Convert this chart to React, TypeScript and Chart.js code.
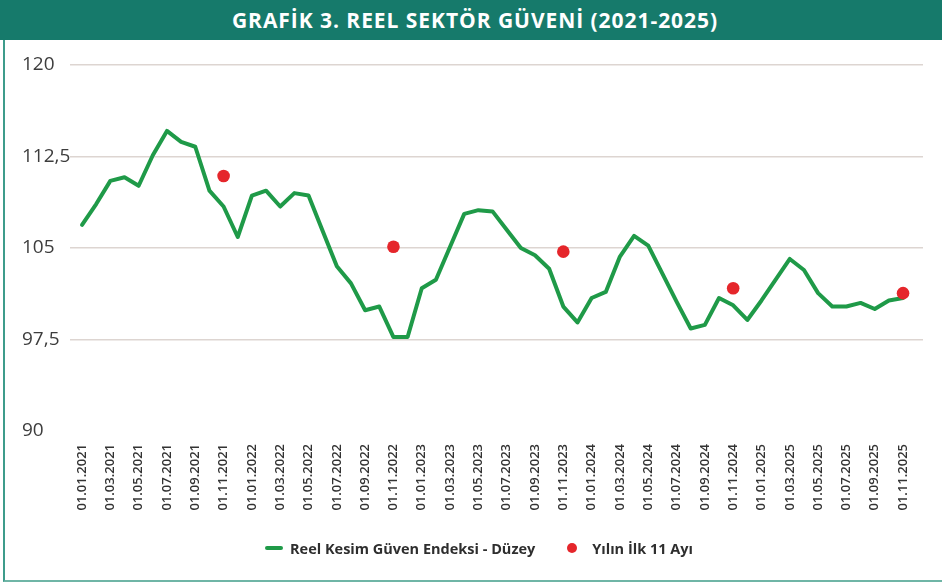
import React, { useEffect, useRef } from "react";
import { Chart, registerables } from "chart.js";

Chart.register(...registerables);

const TITLE = "GRAFİK 3. REEL SEKTÖR GÜVENİ (2021-2025)";
const SERIES_LABEL = "Reel Kesim Güven Endeksi - Düzey";
const DOT_LABEL = "Yılın İlk 11 Ayı";

// Monthly categories: 01.01.2021 ... 01.11.2025
const MONTHS: string[] = [];
for (let y = 2021; y <= 2025; y++) {
  for (let m = 1; m <= 12; m++) {
    if (y === 2025 && m > 11) break;
    MONTHS.push(`01.${String(m).padStart(2, "0")}.${y}`);
  }
}

// Reel Kesim Güven Endeksi - Düzey (monthly)
const INDEX_VALUES = [
  106.9, 108.6, 110.5, 110.8, 110.1, 112.6, 114.6, 113.7, 113.3, 109.7, 108.4, 105.9,
  109.3, 109.7, 108.4, 109.5, 109.3, 106.4, 103.5, 102.1, 99.9, 100.2, 97.7, 97.7,
  101.7, 102.4, 105.1, 107.8, 108.1, 108.0, 106.5, 105.0, 104.4, 103.3, 100.2, 98.9,
  100.9, 101.4, 104.3, 106.0, 105.2, 102.9, 100.6, 98.4, 98.7, 100.9, 100.3, 99.1,
  100.7, 102.4, 104.1, 103.2, 101.3, 100.2, 100.2, 100.5, 100.0, 100.7, 100.9,
];

// Yılın İlk 11 Ayı (average of first 11 months)
const DOT_MONTHS = ["01.11.2021", "01.11.2022", "01.11.2023", "01.11.2024", "01.11.2025"];
const DOT_VALUES = [110.9, 105.1, 104.7, 101.7, 101.3];

const Y_TICKS = [90, 97.5, 105, 112.5, 120];

const GREEN = "#1f9a48";
const RED = "#e5262b";
const BANNER = "#167a6b";
const FONT = "'Open Sans', 'Noto Sans', sans-serif";

export default function App() {
  const ref = useRef<HTMLCanvasElement | null>(null);

  useEffect(() => {
    document.body.style.margin = "0";
    const canvas = ref.current;
    if (!canvas) return;
    const chart = new Chart(canvas, {
      type: "line",
      data: {
        datasets: [
          {
            label: DOT_LABEL,
            data: DOT_MONTHS.map((m, i) => ({ x: MONTHS.indexOf(m), y: DOT_VALUES[i] })),
            showLine: false,
            pointRadius: 6.3,
            pointHoverRadius: 6.3,
            pointBackgroundColor: RED,
            pointBorderWidth: 0,
            backgroundColor: RED,
            borderColor: RED,
          },
          {
            label: SERIES_LABEL,
            data: INDEX_VALUES.map((v, i) => ({ x: i, y: v })),
            borderColor: GREEN,
            backgroundColor: GREEN,
            borderWidth: 4,
            pointRadius: 0,
            pointHoverRadius: 0,
            tension: 0,
            borderJoinStyle: "round",
            borderCapStyle: "round",
          },
        ],
      },
      options: {
        responsive: false,
        animation: false,
        layout: { padding: { left: 22, right: 19, top: 25, bottom: 0 } },
        plugins: {
          legend: { display: false },
          tooltip: { enabled: false },
          title: { display: false },
        },
        scales: {
          x: {
            type: "linear",
            min: -0.85,
            max: 59.41,
            afterBuildTicks: (scale: any) => {
              scale.ticks = MONTHS.map((_, i) => ({ value: i })).filter((t) => t.value % 2 === 0);
            },
            afterFit: (scale: any) => {
              scale.height = 109;
            },
            grid: { display: false, drawTicks: false, tickLength: 0 },
            border: { display: false },
            ticks: {
              autoSkip: false,
              maxRotation: 90,
              minRotation: 90,
              padding: 13,
              color: "#333",
              font: { family: FONT, size: 13, weight: 600 },
              callback: (v: any) => MONTHS[Number(v)] ?? "",
            },
          },
          y: {
            min: 90,
            max: 120,
            afterBuildTicks: (scale: any) => {
              scale.ticks = Y_TICKS.map((v) => ({ value: v }));
            },
            afterFit: (scale: any) => {
              scale.width = 48;
            },
            grid: {
              drawTicks: false,
              tickLength: 0,
              lineWidth: 1.5,
              color: (ctx: any) => (ctx.tick && ctx.tick.value === 90 ? "rgba(0,0,0,0)" : "#ddd5d1"),
            },
            border: { display: false },
            ticks: {
              crossAlign: "far",
              padding: 12,
              color: "#3d3d3d",
              font: { family: FONT, size: 19 },
              callback: (v: any) => String(v).replace(".", ","),
            },
          },
        },
      },
    });
    return () => chart.destroy();
  }, []);

  return (
    <div
      style={{
        position: "relative",
        width: 942,
        height: 582,
        background: "#fff",
        overflow: "hidden",
        fontFamily: FONT,
      }}
    >
      <div
        style={{
          position: "absolute",
          left: 0,
          top: 0,
          width: 942,
          height: 40,
          background: BANNER,
          color: "#fff",
          display: "flex",
          alignItems: "center",
          justifyContent: "center",
          paddingLeft: 8,
          boxSizing: "border-box",
          font: `700 21px ${FONT}`,
          letterSpacing: 0.95,
        }}
      >
        {TITLE}
      </div>
      <div
        style={{
          position: "absolute",
          left: 3,
          top: 40,
          width: 960,
          height: 542,
          borderLeft: "2px solid #3e9c8b",
          borderBottom: "2px solid #6fb5a6",
          boxSizing: "border-box",
        }}
      />
      <canvas
        ref={ref}
        width={942}
        height={500}
        style={{ position: "absolute", left: 0, top: 40, display: "block" }}
      />
      <div
        style={{
          position: "absolute",
          left: 8,
          top: 538,
          width: 942,
          height: 20,
          display: "flex",
          alignItems: "center",
          justifyContent: "center",
          color: "#2e2e2e",
          font: `700 14.5px ${FONT}`,
        }}
      >
        <span style={{ display: "inline-block", width: 18, height: 4, borderRadius: 2, background: GREEN, marginRight: 7 }} />
        <span>{SERIES_LABEL}</span>
        <span
          style={{
            display: "inline-block",
            width: 10,
            height: 10,
            borderRadius: 5,
            background: RED,
            marginLeft: 32,
            marginRight: 15,
          }}
        />
        <span>{DOT_LABEL}</span>
      </div>
    </div>
  );
}
